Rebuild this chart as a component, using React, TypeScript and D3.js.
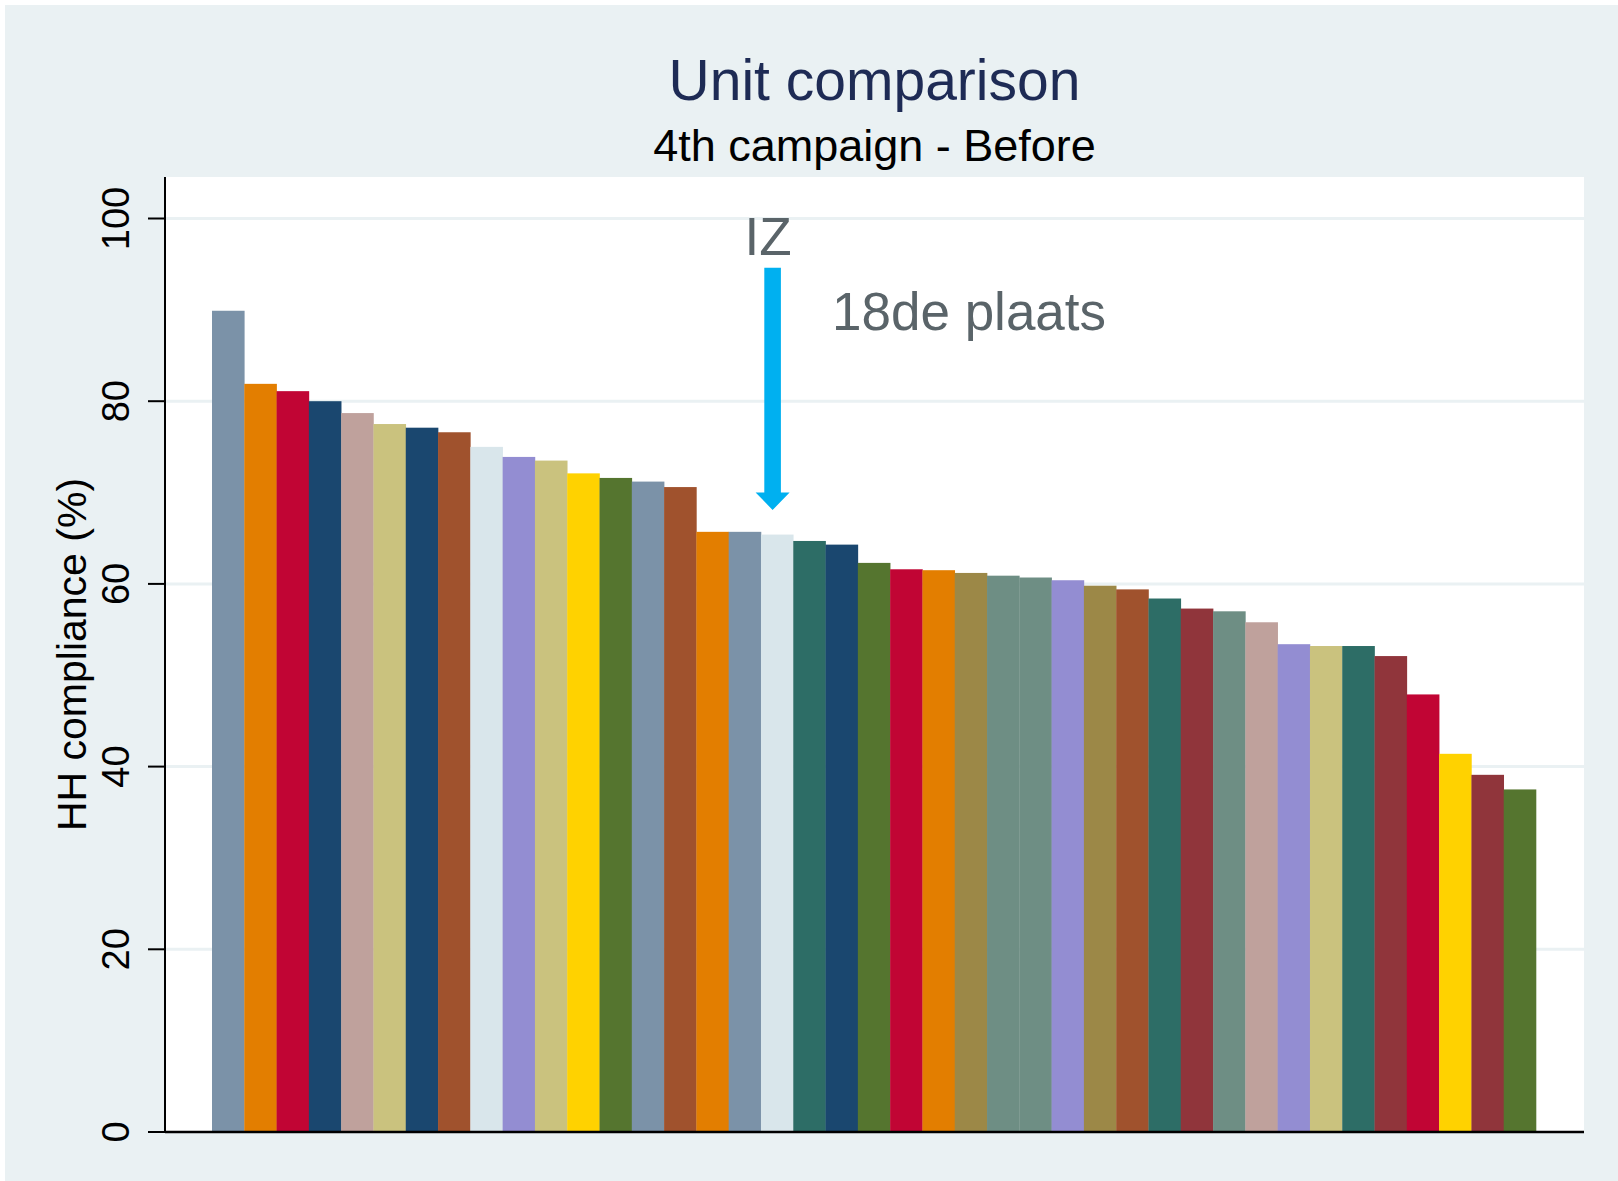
import * as d3 from 'd3'

// HH compliance per unit, sorted high to low
const values = [
  89.9, 81.9, 81.1, 80.0, 78.7, 77.5, 77.1, 76.6, 75.0, 73.9,
  73.5, 72.1, 71.6, 71.2, 70.6, 65.7, 65.7, 65.4, 64.7, 64.3,
  62.3, 61.6, 61.5, 61.2, 60.9, 60.7, 60.4, 59.8, 59.4, 58.4,
  57.3, 57.0, 55.8, 53.4, 53.2, 53.2, 52.1, 47.9, 41.4, 39.1, 37.5,
]

const barColors = [
  'emidblue', 'dkorange', 'cranberry', 'navy', 'erose', 'khaki', 'navy', 'sienna', 'bluishgray', 'lavender',
  'khaki', 'gold', 'forest', 'emidblue', 'sienna', 'dkorange', 'emidblue', 'bluishgray', 'emerald', 'navy',
  'forest', 'cranberry', 'dkorange', 'brown', 'teal', 'teal', 'lavender', 'brown', 'sienna', 'emerald',
  'maroon', 'teal', 'erose', 'lavender', 'khaki', 'emerald', 'maroon', 'cranberry', 'gold', 'maroon', 'forest',
]

const yTicks = [0, 20, 40, 60, 80, 100]

const title = 'Unit comparison'
const subtitle = '4th campaign - Before'
const yLabel = 'HH compliance (%)'

// highlighted unit: IZ, 18th place
const arrowX = 17.36
const arrowFrom = 94.6
const arrowTo = 68.1
const markerLabel = 'IZ'
const rankLabel = '18de plaats'

const palette: Record<string, string> = {
  navy: '#1a476f',
  maroon: '#90353b',
  forest: '#55752f',
  dkorange: '#e37e00',
  teal: '#6e8e84',
  cranberry: '#c10534',
  lavender: '#938dd2',
  khaki: '#cac27e',
  sienna: '#a0522d',
  emidblue: '#7b92a8',
  emerald: '#2d6d66',
  brown: '#9c8847',
  erose: '#bfa19c',
  gold: '#ffd200',
  bluishgray: '#d9e6eb',
}

const W = 1618
const H = 1181
const plot = { left: 165, right: 1584, top: 177, bottom: 1132 }
const bg = '#eaf1f3'
const font = '"Liberation Sans", Arial, sans-serif'

export default function App() {
  const x = d3.scaleLinear().domain([0, values.length]).range([212, 1536])
  const y = d3.scaleLinear().domain([0, 100]).range([plot.bottom, 218.5])
  const bw = x(1) - x(0)

  const ax = x(arrowX)
  const headTop = y(arrowTo) - 17.5
  const arrowPath = [
    `M${ax - 8.3},${y(arrowFrom)}`,
    `L${ax + 8.3},${y(arrowFrom)}`,
    `L${ax + 8.3},${headTop}`,
    `L${ax + 17},${headTop}`,
    `L${ax},${y(arrowTo)}`,
    `L${ax - 17},${headTop}`,
    `L${ax - 8.3},${headTop}`,
    'Z',
  ].join('')

  const cx = (plot.left + plot.right) / 2

  return (
    <svg
      width={W}
      height={H}
      style={{ position: 'absolute', left: 0, top: 0, fontFamily: font }}
    >
      <rect x={0} y={0} width={W} height={H} fill="#ffffff" />
      <rect x={5} y={5} width={W - 5} height={H - 5} fill={bg} />
      <rect
        x={plot.left}
        y={plot.top}
        width={plot.right - plot.left}
        height={plot.bottom - plot.top}
        fill="#ffffff"
      />

      <text x={cx} y={100} textAnchor="middle" fontSize={57} fill="#1e2b55">
        {title}
      </text>
      <text x={cx} y={161} textAnchor="middle" fontSize={45} fill="#000">
        {subtitle}
      </text>

      {yTicks
        .filter((t) => t > 0)
        .map((t) => (
          <line
            key={`g${t}`}
            x1={plot.left}
            x2={plot.right}
            y1={y(t)}
            y2={y(t)}
            stroke={bg}
            strokeWidth={3}
          />
        ))}

      {values.map((v, i) => (
        <rect
          key={i}
          x={x(i)}
          y={y(v)}
          width={bw + 0.3}
          height={y(0) - y(v)}
          fill={palette[barColors[i]]}
        />
      ))}

      <line x1={plot.left} x2={plot.left} y1={plot.top} y2={plot.bottom} stroke="#000" strokeWidth={2} />
      <line x1={plot.left} x2={plot.right} y1={plot.bottom} y2={plot.bottom} stroke="#000" strokeWidth={2.5} />

      {yTicks.map((t) => (
        <g key={`t${t}`}>
          <line x1={148} x2={plot.left} y1={y(t)} y2={y(t)} stroke="#000" strokeWidth={2} />
          <text
            transform={`translate(129,${y(t)}) rotate(-90)`}
            textAnchor="middle"
            fontSize={38}
            fill="#000"
          >
            {t}
          </text>
        </g>
      ))}

      <text
        transform={`translate(86,${(plot.top + plot.bottom) / 2}) rotate(-90)`}
        textAnchor="middle"
        fontSize={41}
        fill="#000"
      >
        {yLabel}
      </text>

      <path d={arrowPath} fill="#00b0f0" />
      <text x={x(17.22)} y={y(96)} textAnchor="middle" fontSize={53} fill="#5a6469">
        {markerLabel}
      </text>
      <text x={x(19.2)} y={y(87.8)} fontSize={53} fill="#5a6469">
        {rankLabel}
      </text>
    </svg>
  )
}
